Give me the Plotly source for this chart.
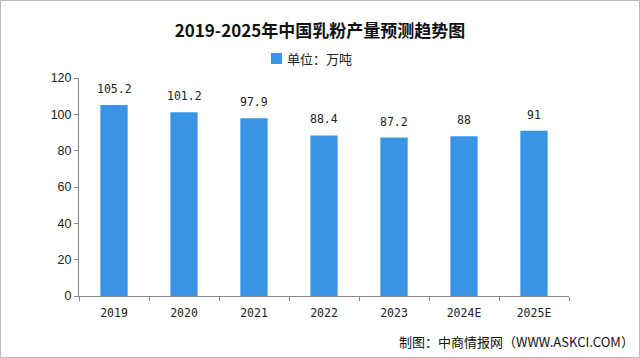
import plotly.graph_objects as go

categories = ["2019", "2020", "2021", "2022", "2023", "2024E", "2025E"]
values = [105.2, 101.2, 97.9, 88.4, 87.2, 88, 91]
value_labels = ["105.2", "101.2", "97.9", "88.4", "87.2", "88", "91"]
y_ticks = [0, 20, 40, 60, 80, 100, 120]
legend_label = "单位：万吨"
bar_color = "#3A94E6"

W, H = 640, 358
ml, mr, mt, mb = 79, 71, 78, 62
pw, ph = W - ml - mr, H - mt - mb


def px_x(x):
    return (x - ml) / pw


def px_y(y):
    return (H - mb - y) / ph


fig = go.Figure()
fig.add_trace(go.Bar(
    x=categories, y=values, name=legend_label,
    marker=dict(color=bar_color, line=dict(width=0)),
    width=0.39, showlegend=False, hoverinfo="skip",
))

# value labels placed on the category axis by category index
label_annotations = [
    dict(x=i, y=v, text=t, xref="x", yref="y", showarrow=False,
         yanchor="middle", yshift=16,
         font=dict(family="DejaVu Sans Mono, monospace", size=11.5, color="#222"))
    for i, (v, t) in enumerate(zip(values, value_labels))
]

fig.update_layout(
    width=W, height=H,
    margin=dict(l=ml, r=mr, t=mt, b=mb, autoexpand=False),
    paper_bgcolor="white", plot_bgcolor="white",
    title=dict(text="<b>2019-2025年中国乳粉产量预测趋势图</b>", x=0.5, xanchor="center",
               y=1 - 31 / H, yanchor="middle",
               font=dict(family="Noto Sans CJK SC", size=17, color="#111")),
    showlegend=False,
    font=dict(family="Liberation Sans", color="#222"),
    xaxis=dict(type="category", categoryorder="array", categoryarray=categories,
               range=[-0.5, len(categories) - 0.5],
               showline=True, linecolor="#888", linewidth=1, ticks="outside",
               tickson="boundaries", ticklen=4, tickcolor="#888",
               ticklabelstandoff=6,
               tickfont=dict(family="DejaVu Sans Mono, monospace", size=11.5, color="#222"),
               showgrid=False, automargin=False),
    yaxis=dict(range=[0, 120], tickvals=y_ticks, showline=True, linecolor="#888",
               linewidth=1, ticks="outside", ticklen=4, tickcolor="#888",
               tickfont=dict(family="Liberation Sans", size=12.5, color="#222"),
               showgrid=False, zeroline=False, automargin=False),
    annotations=label_annotations + [
        dict(text="制图：中商情报网（WWW.ASKCI.COM）", xref="paper", yref="paper",
             x=px_x(W - 4), y=px_y(341), xanchor="right",
             yanchor="middle", showarrow=False,
             font=dict(family="Noto Sans CJK SC", size=13, color="#111")),
        dict(text=legend_label, xref="paper", yref="paper",
             x=px_x(285), y=px_y(59), xanchor="left", yanchor="middle",
             showarrow=False,
             font=dict(family="Noto Sans CJK SC", size=13, color="#222")),
    ],
    shapes=[
        dict(type="rect", xref="paper", yref="paper",
             x0=px_x(0.5), x1=px_x(W - 0.5), y0=px_y(0.5), y1=px_y(H - 0.5),
             line=dict(color="#bbb", width=1)),
        dict(type="rect", xref="paper", yref="paper",
             x0=px_x(271), x1=px_x(282), y0=px_y(53), y1=px_y(64),
             fillcolor=bar_color, line=dict(width=0)),
    ],
)

fig.write_html("out.html", config={"displayModeBar": False},
               post_script="document.body.style.margin='0';document.body.style.overflow='hidden';")
